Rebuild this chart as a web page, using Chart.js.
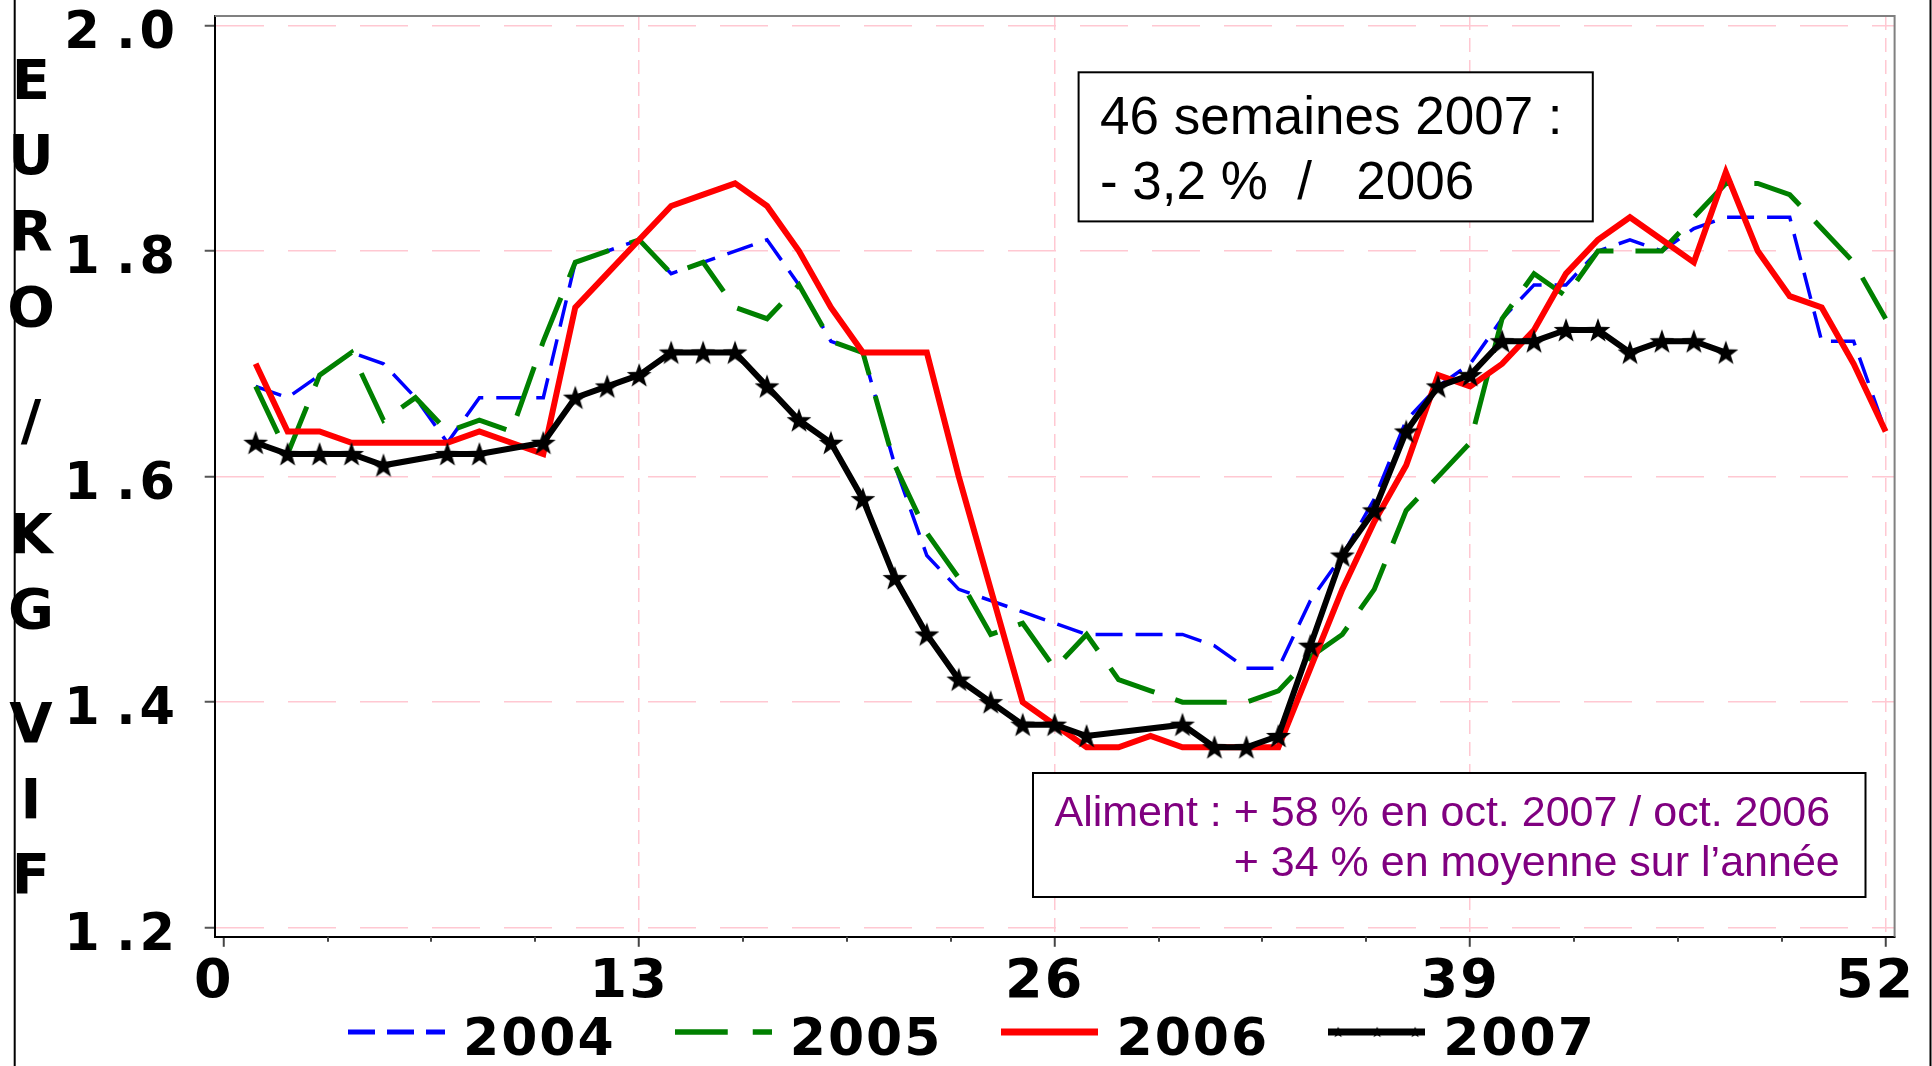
<!DOCTYPE html>
<html lang="fr">
<head>
<meta charset="utf-8">
<title>EURO / KG VIF</title>
<script src="https://cdn.jsdelivr.net/npm/chart.js@4.4.1/dist/chart.umd.min.js"></script>
<style>
html, body { margin: 0; padding: 0; background: #ffffff; }
#c { display: block; }
</style>
</head>
<body>
<canvas id="c" width="1932" height="1066"></canvas>
<script>
// ---------------- data ----------------
const weeks = [1,2,3,4,5,6,7,8,9,10,11,12,13,14,15,16,17,18,19,20,21,22,23,24,25,26,
               27,28,29,30,31,32,33,34,35,36,37,38,39,40,41,42,43,44,45,46,47,48,49,50,51,52];
const values2004 = [1.68,1.67,1.69,1.71,1.70,1.67,1.63,1.67,1.67,1.67,
                    1.79,1.80,1.81,1.78,1.79,1.80,1.81,1.77,1.72,1.71,
                    1.61,1.53,1.50,1.49,1.48,1.47,1.46,1.46,1.46,1.46,
                    1.45,1.43,1.43,1.49,1.53,1.58,1.65,1.68,1.70,1.74,
                    1.77,1.77,1.80,1.81,1.80,1.82,1.83,1.83,1.83,1.72,
                    1.72,1.64];
const values2005 = [1.68,1.62,1.69,1.71,1.65,1.67,1.64,1.65,1.64,1.72,
                    1.79,1.80,1.81,1.78,1.79,1.75,1.74,1.77,1.72,1.71,
                    1.61,1.55,1.51,1.46,1.47,1.43,1.46,1.42,1.41,1.40,
                    1.40,1.40,1.41,1.44,1.46,1.50,1.57,1.60,1.63,1.74,
                    1.78,1.76,1.80,1.80,1.80,1.83,1.86,1.86,1.85,1.82,
                    1.79,1.74];
const values2006 = [1.70,1.64,1.64,1.63,1.63,1.63,1.63,1.64,1.63,1.62,
                    1.75,1.78,1.81,1.84,1.85,1.86,1.84,1.80,1.75,1.71,
                    1.71,1.71,1.60,1.50,1.40,1.38,1.36,1.36,1.37,1.36,
                    1.36,1.36,1.36,1.43,1.50,1.56,1.61,1.69,1.68,1.70,
                    1.73,1.78,1.81,1.83,1.81,1.79,1.87,1.80,1.76,1.75,
                    1.70,1.64];
const values2007 = [1.63,1.62,1.62,1.62,1.61,null,1.62,1.62,null,1.63,
                    1.67,1.68,1.69,1.71,1.71,1.71,1.68,1.65,1.63,1.58,
                    1.51,1.46,1.42,1.40,1.38,1.38,1.37,null,null,1.38,
                    1.36,1.36,1.37,1.45,1.53,1.57,1.64,1.68,1.69,1.72,
                    1.72,1.73,1.73,1.71,1.72,1.72,1.71];
const seriesNames = ['2004', '2005', '2006', '2007'];
const xTickValues = [0, 13, 26, 39, 52];
const xTickLabels = ['0', '13', '26', '39', '52'];
const yTickValues = [1.2, 1.4, 1.6, 1.8, 2.0];
const yTickLabels = ['1\u2006.2', '1\u2006.4', '1\u2006.6', '1\u2006.8', '2\u2006.0'];
const yAxisTitle = 'EURO / KG VIF';
const note1Lines = ['46 semaines 2007 :', '- 3,2 %  /   2006'];
const note2Lines = ['Aliment : + 58 % en oct. 2007 / oct. 2006', '+ 34 % en moyenne sur l\u2019année'];

// ---------------- styling helpers ----------------
const FONT = '"Liberation Sans", Arial, Helvetica, sans-serif';
const BFONT = '"DejaVu Sans", Verdana, sans-serif';
const LS = '2px';
const Y_LS = '4px';
const minorStep = 13 / 4;
const minorTicks = [];
for (let v = minorStep; v < 52; v += minorStep) { if (Math.abs(v % 13) > 0.01) minorTicks.push(v); }

const seriesColors = ['#0000ff', '#008000', '#ff0000', '#000000'];
const seriesWidths = [3.5, 5, 6, 6];
const seriesDash = [[27, 13], [52, 22], [], []];

function makeStar(R, r, color) {
  const size = Math.ceil(R * 2 + 2);
  const c = document.createElement('canvas');
  c.width = size; c.height = size;
  const g = c.getContext('2d');
  g.translate(size / 2, size / 2 + R * 0.08);
  g.beginPath();
  for (let i = 0; i < 10; i++) {
    const rad = (i % 2) ? r : R;
    const a = -Math.PI / 2 + i * Math.PI / 5;
    g.lineTo(rad * Math.cos(a), rad * Math.sin(a));
  }
  g.closePath();
  g.fillStyle = color;
  g.fill();
  return c;
}
const bigStar = makeStar(13, 5.2, '#000');
const smallStar = makeStar(6, 2.5, '#000');

// legend sample images (line drawn a little above the text centre, as in the original)
const SAMPLE_W = 97, SAMPLE_H = 40, SAMPLE_RAISE = 9;
function makeSample(color, width, dash, stars) {
  const c = document.createElement('canvas');
  c.width = SAMPLE_W; c.height = SAMPLE_H;
  const g = c.getContext('2d');
  const ly = SAMPLE_H / 2 - SAMPLE_RAISE;
  g.strokeStyle = color;
  g.lineWidth = width;
  g.lineCap = 'butt';
  g.setLineDash(dash);
  g.beginPath();
  g.moveTo(0, ly);
  g.lineTo(SAMPLE_W, ly);
  g.stroke();
  if (stars) {
    for (const f of [0.1, 0.5, 0.9]) {
      g.drawImage(smallStar, Math.round(SAMPLE_W * f - smallStar.width / 2), Math.round(ly - smallStar.height / 2));
    }
  }
  return c;
}
const legendSamples = [
  makeSample(seriesColors[0], 5, [27, 12], false),
  makeSample(seriesColors[1], 5.5, [53, 25], false),
  makeSample(seriesColors[2], 7, [], false),
  makeSample(seriesColors[3], 7, [], true)
];

const pts = (arr) => arr.map((v, i) => ({ x: weeks[i], y: v }));

const LEGEND_CY = 1041;
const LEGEND_BOX = 81;                 // advance used by the legend for the sample
const LEGEND_X0 = 348 + (SAMPLE_W - LEGEND_BOX) / 2;
const LEGEND_PAD = 67;
const LEGEND_FONT = 52;

const decor = {
  id: 'decor',
  beforeUpdate(chart) { chart.ctx.letterSpacing = LS; },
  afterLayout(chart) {
    const L = chart.legend;
    if (L) {
      const dy = LEGEND_CY - (L.top + LEGEND_PAD + LEGEND_FONT / 2);
      L.top += dy;
      L.bottom = chart.height + 20;
      L.height = L.bottom - L.top;
      const dx = (LEGEND_X0 - LEGEND_PAD) - L.left;
      L.left += dx; L.right += dx;
    }
    // wider letter spacing for the y tick labels only
    const ys = chart.scales.y;
    if (ys && !ys._lsPatched) {
      const orig = ys.drawLabels;
      ys.drawLabels = function (area) {
        const c = this.ctx;
        const prev = c.letterSpacing;
        c.letterSpacing = Y_LS;
        orig.call(this, area);
        c.letterSpacing = prev;
      };
      ys._lsPatched = true;
    }
  },
  beforeDraw(chart) { chart.ctx.letterSpacing = LS; },
  beforeDatasetsDraw(chart) {
    const { ctx, chartArea: a } = chart;
    ctx.save();
    ctx.letterSpacing = '0px';
    ctx.strokeStyle = '#808080';
    ctx.lineWidth = 2;
    ctx.beginPath();
    ctx.moveTo(a.left, a.top);
    ctx.lineTo(a.right, a.top);
    ctx.lineTo(a.right, a.bottom);
    ctx.stroke();
    const xs = chart.scales.x;
    ctx.strokeStyle = '#444';
    ctx.lineWidth = 2;
    for (const v of minorTicks) {
      const px = Math.round(xs.getPixelForValue(v));
      ctx.beginPath();
      ctx.moveTo(px, a.bottom);
      ctx.lineTo(px, a.bottom + 5);
      ctx.stroke();
    }
    ctx.restore();
    ctx.letterSpacing = '0px';
  },
  afterDraw(chart) {
    const ctx = chart.ctx;
    ctx.save();
    ctx.letterSpacing = '0px';
    // outer frame lines
    ctx.fillStyle = '#000';
    ctx.fillRect(13.7, 0, 2, chart.height);
    ctx.fillRect(1929.5, 0, 2, chart.height);

    // vertical stacked y-axis title
    ctx.font = 'bold 56px ' + BFONT;
    ctx.textAlign = 'center';
    ctx.textBaseline = 'middle';
    ctx.fillStyle = '#000';
    let yy = 84;
    const step = 75.7;
    for (const ch of yAxisTitle) {
      if (ch === ' ') { yy += step * 0.5; continue; }
      ctx.fillText(ch, 31, yy);
      yy += step;
    }

    // note box 1
    ctx.fillStyle = '#fff';
    ctx.fillRect(1078.6, 72.3, 514.2, 149.1);
    ctx.strokeStyle = '#000';
    ctx.lineWidth = 2;
    ctx.strokeRect(1078.6, 72.3, 514.2, 149.1);
    ctx.fillStyle = '#000';
    ctx.textAlign = 'left';
    ctx.textBaseline = 'alphabetic';
    ctx.font = '53px ' + FONT;
    ctx.fillText(note1Lines[0], 1100, 134.3);
    ctx.fillText(note1Lines[1], 1100, 199);

    // note box 2
    ctx.fillStyle = '#fff';
    ctx.fillRect(1033, 773, 832.5, 124);
    ctx.strokeStyle = '#000';
    ctx.strokeRect(1033, 773, 832.5, 124);
    ctx.fillStyle = '#800080';
    ctx.font = '43px ' + FONT;
    ctx.fillText(note2Lines[0], 1054.5, 825.7);
    const indent = ctx.measureText('Aliment : ').width;
    ctx.fillText(note2Lines[1], 1054.5 + indent, 875.8);

    ctx.restore();
    ctx.letterSpacing = LS;
  }
};

const chart = new Chart(document.getElementById('c'), {
  type: 'line',
  data: {
    datasets: [
      { label: seriesNames[0], data: pts(values2004), borderColor: seriesColors[0], backgroundColor: seriesColors[0],
        borderWidth: seriesWidths[0], borderDash: seriesDash[0], pointRadius: 0, tension: 0, order: 4 },
      { label: seriesNames[1], data: pts(values2005), borderColor: seriesColors[1], backgroundColor: seriesColors[1],
        borderWidth: seriesWidths[1], borderDash: seriesDash[1], pointRadius: 0, tension: 0, order: 3 },
      { label: seriesNames[2], data: pts(values2006), borderColor: seriesColors[2], backgroundColor: seriesColors[2],
        borderWidth: seriesWidths[2], pointRadius: 0, tension: 0, order: 2 },
      { label: seriesNames[3], data: pts(values2007), borderColor: seriesColors[3], backgroundColor: seriesColors[3],
        borderWidth: seriesWidths[3], pointStyle: bigStar, pointRadius: 10, pointHoverRadius: 10, spanGaps: true, tension: 0, order: 1 }
    ]
  },
  options: {
    responsive: false,
    animation: false,
    devicePixelRatio: 1,
    layout: { padding: { left: 0, right: 37.4, top: 10, bottom: 0 } },
    plugins: {
      tooltip: { enabled: false },
      legend: {
        display: true,
        position: 'bottom',
        align: 'start',
        maxHeight: 60,
        labels: {
          usePointStyle: true,
          pointStyleWidth: LEGEND_BOX,
          padding: LEGEND_PAD,
          color: '#000',
          font: { family: BFONT, size: LEGEND_FONT, weight: 'bold' },
          generateLabels: (chart) => chart.data.datasets.map((ds, i) => ({
            text: ds.label,
            fillStyle: ds.borderColor,
            strokeStyle: ds.borderColor,
            fontColor: '#000',
            lineWidth: 0,
            pointStyle: legendSamples[i],
            hidden: false,
            datasetIndex: i
          }))
        }
      }
    },
    scales: {
      x: {
        type: 'linear',
        min: -0.2816,
        max: 52.281,
        afterBuildTicks: (s) => { s.ticks = xTickValues.map(v => ({ value: v })); },
        afterFit: (s) => { s.height = 69.2; s.paddingLeft = 0; s.paddingRight = 0; },
        ticks: {
          callback: (v, i) => xTickLabels[i],
          autoSkip: false, maxRotation: 0, minRotation: 0,
          color: '#000',
          padding: 4,
          labelOffset: -10,
          font: { family: BFONT, size: 54, weight: 'bold', lineHeight: 1.2 }
        },
        grid: {
          color: (c) => (c.tick && c.tick.value === 0) ? 'rgba(0,0,0,0)' : '#ffc8d2',
          lineWidth: 1.5,
          drawTicks: true,
          tickLength: 10,
          tickWidth: 2,
          tickColor: '#444',
          tickBorderDash: []
        },
        border: { display: true, color: '#000', width: 2, dash: [14, 8] }
      },
      y: {
        type: 'linear',
        min: 1.19189,
        max: 2.00846,
        afterBuildTicks: (s) => { s.ticks = yTickValues.map(v => ({ value: v })); },
        afterFit: (s) => { s.width = 214.7; s.paddingTop = 0; s.paddingBottom = 0; },
        ticks: {
          callback: (v, i) => yTickLabels[i],
          color: '#000',
          padding: 25.6,
          labelOffset: 9,
          font: { family: BFONT, size: 51, weight: 'bold' }
        },
        grid: {
          color: '#ffc8d2',
          lineWidth: 1.5,
          drawTicks: true,
          tickLength: 10,
          tickWidth: 2,
          tickColor: '#555',
          tickBorderDash: []
        },
        border: { display: true, color: '#000', width: 2, dash: [48, 24] }
      }
    }
  },
  plugins: [decor]
});
</script>
</body>
</html>
